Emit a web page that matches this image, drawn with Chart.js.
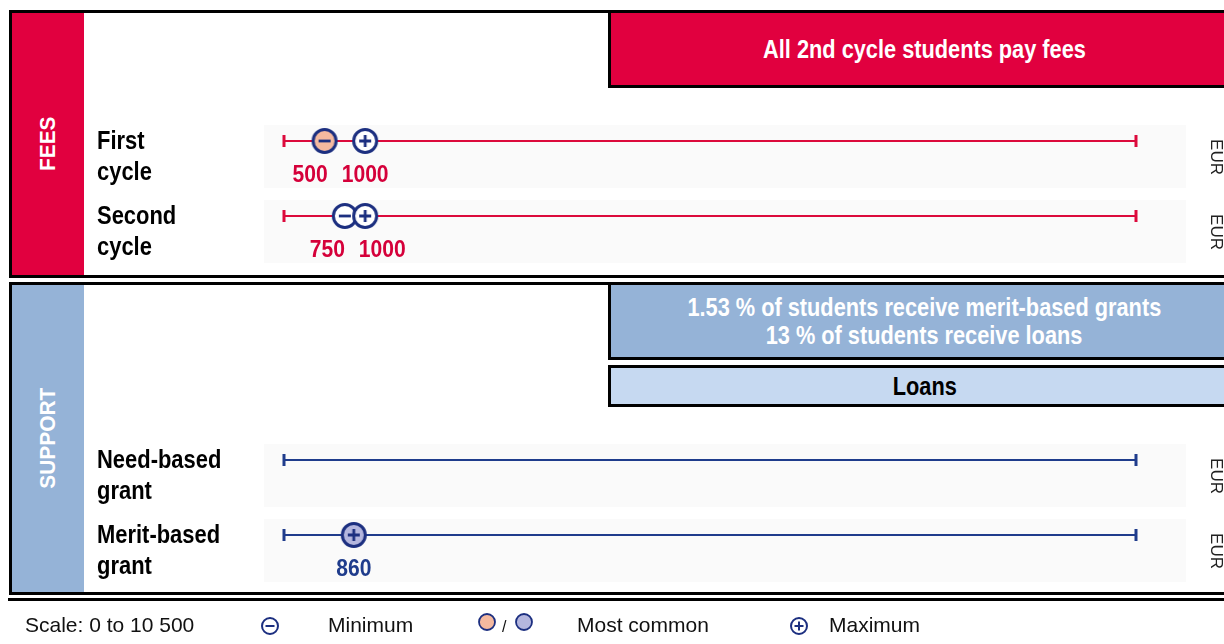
<!DOCTYPE html>
<html>
<head>
<meta charset="utf-8">
<script src="https://cdn.jsdelivr.net/npm/chart.js@4/dist/chart.umd.min.js"></script>
<style>
  body { margin: 0; width: 1224px; height: 644px; overflow: hidden; background: #fff; position: relative;
         font-family: "Liberation Sans", Arial, sans-serif; }
  .box { position: absolute; left: 9px; width: 1240px; box-sizing: border-box;
         border: 3px solid #000; border-right: none; }
  .side { position: absolute; left: 0; top: 0; bottom: 0; width: 72px; display: flex;
          align-items: center; justify-content: center; }
  .side span { writing-mode: vertical-rl; transform: rotate(180deg) scaleY(0.95); color: #fff;
               font-weight: bold; font-size: 22px; }
  .banner { position: absolute; left: 608px; width: 630px; box-sizing: border-box;
            border: 3px solid #000; border-right: none; display: flex; flex-direction: column;
            align-items: center; justify-content: center; font-weight: bold; font-size: 25px;
            line-height: 28px; }
  .banner div { transform: scaleX(0.87); white-space: nowrap; }
  canvas { position: absolute; left: 0; }
  #legend { position: absolute; left: 0; top: 598px; width: 1224px; height: 46px; }
  #legend .rule { position: absolute; left: 8px; right: 0; top: 0; height: 3px; background: #000; }
  #legend .t { position: absolute; top: 15px; font-size: 21px; color: #111; white-space: nowrap; }
  #legend svg { position: absolute; }
</style>
</head>
<body>

<div class="box" style="top:10px; height:268px;">
  <div class="side" style="background:#E1003F;"><span>FEES</span></div>
</div>
<div class="banner" style="top:10px; height:78px; background:#E1003F; color:#fff;">
  <div>All 2nd cycle students pay fees</div>
</div>

<div class="box" style="top:282px; height:313px;">
  <div class="side" style="background:#95B3D7;"><span>SUPPORT</span></div>
</div>
<div class="banner" style="top:282px; height:78px; background:#95B3D7; color:#fff;">
  <div>1.53 % of students receive merit-based grants</div>
  <div>13 % of students receive loans</div>
</div>
<div class="banner" style="top:365px; height:42px; background:#C6D9F1; color:#000;"><div>Loans</div></div>

<canvas id="fees" width="1224" height="276" style="top:0px;"></canvas>
<canvas id="support" width="1224" height="320" style="top:280px;"></canvas>

<div id="legend">
  <div class="rule"></div>
  <div class="t" style="left:25px;">Scale: 0 to 10 500</div>
  <svg width="22" height="22" style="left:259px; top:17px;">
    <circle cx="11" cy="11" r="8" fill="#fff" stroke="#1C2F80" stroke-width="2"/>
    <line x1="6.5" y1="11" x2="15.5" y2="11" stroke="#1C2F80" stroke-width="2"/>
  </svg>
  <div class="t" style="left:328px;">Minimum</div>
  <svg width="22" height="22" style="left:476px; top:13px;">
    <circle cx="11" cy="11" r="8" fill="#F4B99F" stroke="#1C2F80" stroke-width="1.8"/>
  </svg>
  <div class="t" style="left:502px; top:20px; font-size:16px;">/</div>
  <svg width="22" height="22" style="left:513px; top:13px;">
    <circle cx="11" cy="11" r="8" fill="#B4B6DE" stroke="#1C2F80" stroke-width="1.8"/>
  </svg>
  <div class="t" style="left:577px;">Most common</div>
  <svg width="22" height="22" style="left:788px; top:17px;">
    <circle cx="11" cy="11" r="8" fill="#fff" stroke="#1C2F80" stroke-width="2"/>
    <line x1="6.5" y1="11" x2="15.5" y2="11" stroke="#1C2F80" stroke-width="2"/>
    <line x1="11" y1="6.5" x2="11" y2="15.5" stroke="#1C2F80" stroke-width="2"/>
  </svg>
  <div class="t" style="left:829px;">Maximum</div>
</div>

<script>
// Scale runs from 0 to 10 500 EUR on every row
const scaleMax = 10500;

const feeRows = ['First cycle', 'Second cycle'];
const feeMinimum = [500, 750];
const feeMostCommon = [500, null];
const feeMaximum = [1000, 1000];

const supportRows = ['Need-based grant', 'Merit-based grant'];
const supportMinimum = [null, null];
const supportMostCommon = [null, 860];
const supportMaximum = [null, 860];

const NAVY = '#1C2F80';
const LABEL_FONT = '"Liberation Sans", Arial, sans-serif';
const NARROW = 0.86;   // squeeze for the condensed look of the labels

// circle marker with a minus, a plus or nothing inside
function markerIcon (fill, sign) {
    const c = document.createElement('canvas');
    c.width = 30;
    c.height = 30;
    const g = c.getContext('2d');
    g.beginPath();
    g.arc(15, 15, 11.5, 0, Math.PI * 2);
    g.fillStyle = fill;
    g.fill();
    g.lineWidth = 3;
    g.strokeStyle = NAVY;
    g.stroke();
    if (sign) {
        g.lineWidth = 2.8;
        g.beginPath();
        g.moveTo(9, 15);
        g.lineTo(21, 15);
        if (sign === '+') {
            g.moveTo(15, 9);
            g.lineTo(15, 21);
        }
        g.stroke();
    }
    return c;
}

// text squeezed horizontally, x is the left edge
function narrowText (ctx, text, x, y) {
    ctx.save();
    ctx.translate(x, y);
    ctx.scale(NARROW, 1);
    ctx.fillText(text, 0, 0);
    ctx.restore();
}

function buildChart (canvasId, rows, minimum, mostCommon, maximum, style, padding) {
    const datasets = [];

    // the 0 - 10 500 range line of each row, with end ticks
    rows.forEach((r) => {
        datasets.push({
            type: 'line',
            data: [{ x: 0, y: r }, { x: scaleMax, y: r }],
            borderColor: style.line,
            borderWidth: 2,
            pointStyle: 'line',
            pointRotation: 90,
            pointRadius: 6,
            pointBorderWidth: 3,
            pointBorderColor: style.line,
            clip: false,
            order: 4
        });
    });

    const minPts = [];
    const maxPts = [];
    const commonPts = [];
    rows.forEach((r, i) => {
        if (minimum[i] != null) minPts.push({ x: minimum[i], y: r, common: mostCommon[i] === minimum[i] });
        if (maximum[i] != null) maxPts.push({ x: maximum[i], y: r, common: mostCommon[i] === maximum[i] });
        if (mostCommon[i] != null && mostCommon[i] !== minimum[i] && mostCommon[i] !== maximum[i]) {
            commonPts.push({ x: mostCommon[i], y: r, common: true });
        }
    });

    const icons = (pts, sign) => pts.map(p => markerIcon(p.common ? style.common : '#fff', sign));

    datasets.push({
        type: 'scatter', label: 'Most common', data: commonPts,
        pointStyle: icons(commonPts, ''), pointRadius: 13, clip: false, order: 3
    });
    datasets.push({
        type: 'scatter', label: 'Minimum', data: minPts,
        pointStyle: icons(minPts, '-'), pointRadius: 13, clip: false, order: 2
    });
    datasets.push({
        type: 'scatter', label: 'Maximum', data: maxPts,
        pointStyle: icons(maxPts, '+'), pointRadius: 13, clip: false, order: 1
    });

    // row shading, row names, value labels and the EUR unit
    const rowDecor = {
        id: 'rowDecor',
        beforeDatasetsDraw (chart) {
            const ctx = chart.ctx;
            const y = chart.scales.y;
            ctx.save();
            ctx.fillStyle = '#FAFAFA';
            rows.forEach((r, i) => {
                const py = y.getPixelForValue(i);
                ctx.fillRect(264, py - 16, 922, 63);
            });
            ctx.restore();
        },
        afterDatasetsDraw (chart) {
            const ctx = chart.ctx;
            const x = chart.scales.x;
            const y = chart.scales.y;
            ctx.save();
            ctx.textAlign = 'left';
            ctx.textBaseline = 'alphabetic';
            rows.forEach((r, i) => {
                const py = y.getPixelForValue(i);

                // row name on two lines
                ctx.fillStyle = '#000';
                ctx.font = 'bold 25.5px ' + LABEL_FONT;
                const cut = r.indexOf(' ');
                narrowText(ctx, r.slice(0, cut), 97, py + 8);
                narrowText(ctx, r.slice(cut + 1), 97, py + 39);

                // value labels under the markers
                ctx.font = 'bold 24.5px ' + LABEL_FONT;
                ctx.fillStyle = style.text;
                const vals = [];
                [minimum[i], mostCommon[i], maximum[i]].forEach(v => {
                    if (v != null && !vals.includes(v)) vals.push(v);
                });
                vals.sort((a, b) => a - b);
                const items = vals.map(v => {
                    const w = ctx.measureText(String(v)).width * NARROW;
                    const cx = x.getPixelForValue(v);
                    return { text: String(v), w: w, cx: cx, left: cx - w / 2 };
                });
                // on a collision the lower label slides left until its right edge
                // reaches its own marker, the upper label takes the rest
                const gap = 14;
                for (let k = 1; k < items.length; k++) {
                    const a = items[k - 1];
                    const b = items[k];
                    let overlap = a.left + a.w + gap - b.left;
                    if (overlap > 0) {
                        const room = Math.max(0, a.left + a.w - a.cx);
                        const shift = Math.min(room, overlap);
                        a.left -= shift;
                        overlap -= shift;
                        b.left += overlap;
                    }
                }
                items.forEach(it => narrowText(ctx, it.text, it.left, py + 41));

                // unit, turned a quarter
                ctx.save();
                ctx.translate(1216, py + 16);
                ctx.rotate(Math.PI / 2);
                ctx.font = '17px ' + LABEL_FONT;
                ctx.fillStyle = '#222';
                ctx.textAlign = 'center';
                ctx.textBaseline = 'middle';
                ctx.fillText('EUR', 0, 0);
                ctx.restore();
            });
            ctx.restore();
        }
    };

    return new Chart(document.getElementById(canvasId), {
        data: { datasets: datasets },
        options: {
            responsive: false,
            animation: false,
            events: [],
            layout: { padding: padding },
            scales: {
                x: { type: 'linear', min: 0, max: scaleMax, display: false },
                y: { type: 'category', labels: rows, offset: true, display: false }
            },
            plugins: { legend: { display: false }, tooltip: { enabled: false } }
        },
        plugins: [rowDecor]
    });
}

buildChart('fees', feeRows, feeMinimum, feeMostCommon, feeMaximum,
    { line: '#DC0A3C', common: '#F4B99F', text: '#D5003A' },
    { left: 284, right: 88, top: 103.5, bottom: 22.5 });

buildChart('support', supportRows, supportMinimum, supportMostCommon, supportMaximum,
    { line: '#1F3C8C', common: '#B4B6DE', text: '#1F3C8C' },
    { left: 284, right: 88, top: 142.5, bottom: 27.5 });
</script>
</body>
</html>
